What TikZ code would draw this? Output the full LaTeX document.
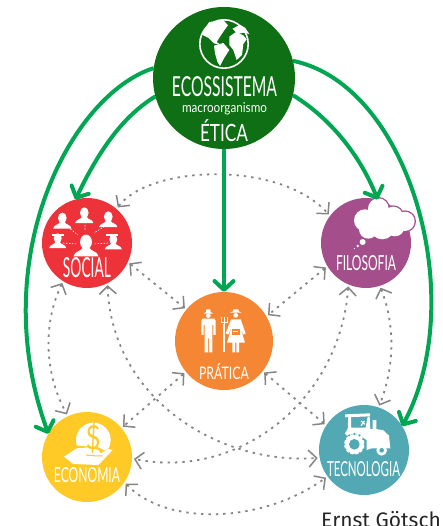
\documentclass[tikz,border=0pt]{standalone}
\usepackage{fontspec}
\usetikzlibrary{arrows.meta}
\setmainfont{Lato}
\newfontfamily\creditfont{Fira Sans}
\definecolor{ecoC}{HTML}{0F6F14}
\definecolor{socC}{HTML}{EE3239}
\definecolor{filC}{HTML}{A44F8B}
\definecolor{praC}{HTML}{F58634}
\definecolor{econC}{HTML}{FFC926}
\definecolor{tecC}{HTML}{52A8B3}
\definecolor{arcC}{HTML}{00A651}
\definecolor{dotC}{HTML}{858585}
\tikzset{
  hub/.style={circle,draw=none,inner sep=0pt,outer sep=0pt},
  lettering/.style={inner sep=0pt,outer sep=0pt,text=white},
  mainarc/.style={draw=arcC,line width=4pt,-{Straight Barb[length=9pt,width=19pt,round,line width=4pt]}},
  link/.style={draw=dotC,line width=1.8pt,dash pattern=on 2.4pt off 5pt,
    {Straight Barb[length=8pt,width=17pt,line width=1.5pt]}-{Straight Barb[length=8pt,width=17pt,line width=1.5pt]},
    shorten <=2pt,shorten >=2pt},
  iconpx/.style={x=0.3333pt,y=-0.3333pt}
}
\newcommand{\lett}[5]{\node[lettering] (#1) at (#2) {\resizebox{#3pt}{#4pt}{#5}};}
\newcommand{\bust}[3]{%
  \fill[white] (#1,#2) ellipse[x radius=0.8*#3,y radius=#3];
  \fill[white] ({#1-1.7*#3},{#2+1.95*#3}) .. controls ({#1-1.6*#3},{#2+1.2*#3}) and ({#1-0.6*#3},{#2+1.3*#3}) .. ({#1-0.4*#3},{#2+0.7*#3})
    -- ({#1+0.4*#3},{#2+0.7*#3}) .. controls ({#1+0.6*#3},{#2+1.3*#3}) and ({#1+1.6*#3},{#2+1.2*#3}) .. ({#1+1.7*#3},{#2+1.95*#3}) -- cycle;}
\begin{document}
\begin{tikzpicture}[x=1pt,y=-1pt]
\useasboundingbox (0,0) rectangle (442,526);
% hubs
\node[hub,fill=ecoC,minimum size=142pt] (eco) at (224,78) {};
\node[hub,fill=socC,minimum size=90pt] (social) at (87,243) {};
\node[hub,fill=filC,minimum size=90pt] (filo) at (366,243) {};
\node[hub,fill=praC,minimum size=98pt] (prat) at (224,341) {};
\node[hub,fill=econC,minimum size=90pt] (econ) at (87,457) {};
\node[hub,fill=tecC,minimum size=90pt] (tec) at (364,450) {};
% globe
\draw[white,line width=1.6pt] (224,44) circle[radius=24.2];
\begin{scope}[shift={(140,0)},iconpx]
\fill[white] (192,88) -- (208,66) -- (250,60) -- (264,76) -- (252,92) -- (240,110) -- (230,126) -- (244,136) -- (222,130) -- (206,114) -- (186,104) -- cycle;
\fill[white] (222,137) -- (250,129) -- (268,150) -- (252,175) -- (240,198) -- (232,185) -- (225,160) -- cycle;
\fill[white] (268,110) -- (288,96) -- (310,106) -- (320,118) -- (310,132) -- (306,165) -- (290,180) -- (280,150) -- (268,135) -- cycle;
\fill[white] (278,86) -- (300,74) -- (316,84) -- (328,102) -- (312,98) -- (292,102) -- cycle;
\end{scope}
% social icon
\bust{62.3}{218}{5.4}
\bust{84.3}{212.7}{5.4}
\bust{108.3}{216.7}{5.4}
\bust{57.7}{238.3}{5}
\bust{113.3}{239.5}{5}
\fill[white] (52,234) rectangle (64,236);
\fill[white] (106,234) rectangle (118,236);
\bust{86}{242}{7.4}
\draw[white,line width=0.6pt,dash pattern=on 1.5pt off 1.5pt] (68,227) -- (78,235) (85,222) -- (85,231) (107,225) -- (94,233) (63,243) -- (77,244) (108,243) -- (94,244);
% farmers
\begin{scope}[shift={(195,300)},iconpx]
\fill[white] (26,41) -- (54,41) -- (47,36) -- (46,28) -- (34,28) -- (33,36) -- cycle;
\fill[white] (40,47) circle[radius=7];
\fill[white] (22,56) -- (58,56) -- (62,62) -- (62,105) -- (55,105) -- (55,75) -- (52,75) -- (52,157) -- (42,157) -- (42,115) -- (39,115) -- (39,157) -- (29,157) -- (29,75) -- (26,75) -- (26,105) -- (19,105) -- (19,62) -- cycle;
\fill[white] (85,157) rectangle (89,72);
\draw[white,line width=1pt] (78,52) -- (78,68) -- (96,68) -- (96,52) (87,52) -- (87,72);
\fill[white] (104,38) -- (140,38) -- (131,34) -- (130,28) -- (115,28) -- (114,34) -- cycle;
\fill[white] (122,46) circle[radius=7];
\fill[white] (108,58) -- (137,58) -- (152,100) -- (145,104) -- (135,80) -- (150,128) -- (132,128) -- (132,157) -- (124,157) -- (124,128) -- (120,128) -- (120,157) -- (112,157) -- (112,128) -- (96,128) -- (110,80) -- (100,104) -- (92,100) -- cycle;
\fill[praC] (111,88) rectangle (134,105);
\fill[white] (115,92) rectangle (130,96);
\end{scope}
% cloud
\begin{scope}[shift={(345,192)},iconpx]
\foreach \cx/\cy/\r in {100/50/31,60/85/33,145/72/28,180/88/29,112/105/37,70/112/28,150/105/28}
  \fill[filC] (\cx,\cy) circle[radius=\r+4];
\foreach \cx/\cy/\r in {100/50/31,60/85/33,145/72/28,180/88/29,112/105/37,70/112/28,150/105/28}
  \fill[white] (\cx,\cy) circle[radius=\r];
\fill[white] (53,150) circle[radius=9] (38,162) circle[radius=4] (28,170) circle[radius=2];
\end{scope}
% economy icon
\begin{scope}[shift={(30,360)},iconpx]
\fill[white] (190,240) circle[radius=52];
\fill[econC] (95,285) -- (140,257) -- (205,262) -- (225,272) -- (252,258) -- (262,275) -- (205,325) -- (125,325) -- cycle;
\fill[white] (102,290) -- (140,265) -- (175,262) -- (205,270) -- (212,280) -- (235,267) -- (248,270) -- (205,315) -- (130,312) -- cycle;
\draw[econC,line width=1pt] (168,285) -- (200,288) -- (218,288);
\end{scope}
\node[inner sep=0pt,text=econC] (dollar) at (93,438) {\resizebox{15pt}{27pt}{\$}};
% tractor
\begin{scope}[shift={(335,405)},iconpx]
\fill[white] (30,28) -- (105,25) -- (105,34) -- (30,37) -- cycle;
\fill[white] (40,35) -- (48,35) -- (48,68) -- (92,68) -- (98,35) -- (104,35) -- (106,72) -- (113,72) -- (113,45) -- (124,45) -- (124,72) -- (145,76) -- (162,92) -- (166,130) -- (110,130) -- (95,135) -- (95,105) -- (60,85) -- (35,92) -- (30,85) -- (38,72) -- cycle;
\draw[white,line width=1.2pt] (78,62) -- (88,48) (78,48) -- (90,58);
\fill[white] (58,118) circle[radius=31];
\foreach \a in {0,30,...,330} \fill[tecC] (58,118) ++(\a:31) circle[radius=3.5];
\fill[tecC] (58,118) circle[radius=16];
\fill[white] (140,136) circle[radius=16];
\fill[tecC] (140,136) circle[radius=7];
\end{scope}
% lettering
\lett{t1}{224.5,87}{105}{20}{ECOSSISTEMA}
\lett{t2}{224.5,108.5}{85}{10}{macroorganismo}
\lett{t3}{224,131}{48}{22}{ÉTICA}
\lett{t4}{87,268}{48}{20}{SOCIAL}
\lett{t5}{366,263.5}{60}{15}{FILOSOFIA}
\lett{t6}{224,372}{50}{16}{PRÁTICA}
\lett{t7}{87,475.5}{66}{15}{ECONOMIA}
\lett{t8}{363.5,469.5}{73}{15}{TECNOLOGIA}
\node[inner sep=0pt,anchor=base west,text=black!85] (credit) at (321,527.5) {\creditfont\fontsize{21pt}{22pt}\selectfont Ernst Götsch};
% links
\draw[link] (social.49) .. controls (150,165) and (280,160) .. (filo.143);
\draw[link] (social.-25) -- (prat.140.6);
\draw[link] (filo.211) -- (prat.30);
\draw[link] (prat.219) -- (econ.40);
\draw[link] (prat.-38) -- (tec.147);
\draw[link] (social.238) .. controls (42,325) and (45,375) .. (econ.115);
\draw[link] (social.-63) .. controls (112,400) and (220,465) .. (tec.190);
\draw[link] (filo.247) .. controls (340,400) and (240,480) .. (econ.-2.5);
\draw[link] (filo.-72) .. controls (395,325) and (395,365) .. (tec.71);
\draw[link] (econ.-34) .. controls (165,525) and (260,525) .. (tec.216);
% main arcs
\draw[mainarc] (eco.172) .. controls (70,95) and (-15,260) .. (econ.149.5);
\draw[mainarc] (eco.195) .. controls (120,118) and (97,155) .. (social.105);
\draw[mainarc] (eco.270) -- (prat.90);
\draw[mainarc] (eco.-14) .. controls (330,118) and (360,155) .. (filo.75);
\draw[mainarc] (eco.14.6) .. controls (410,85) and (470,300) .. (tec.32.5);
\end{tikzpicture}
\end{document}
